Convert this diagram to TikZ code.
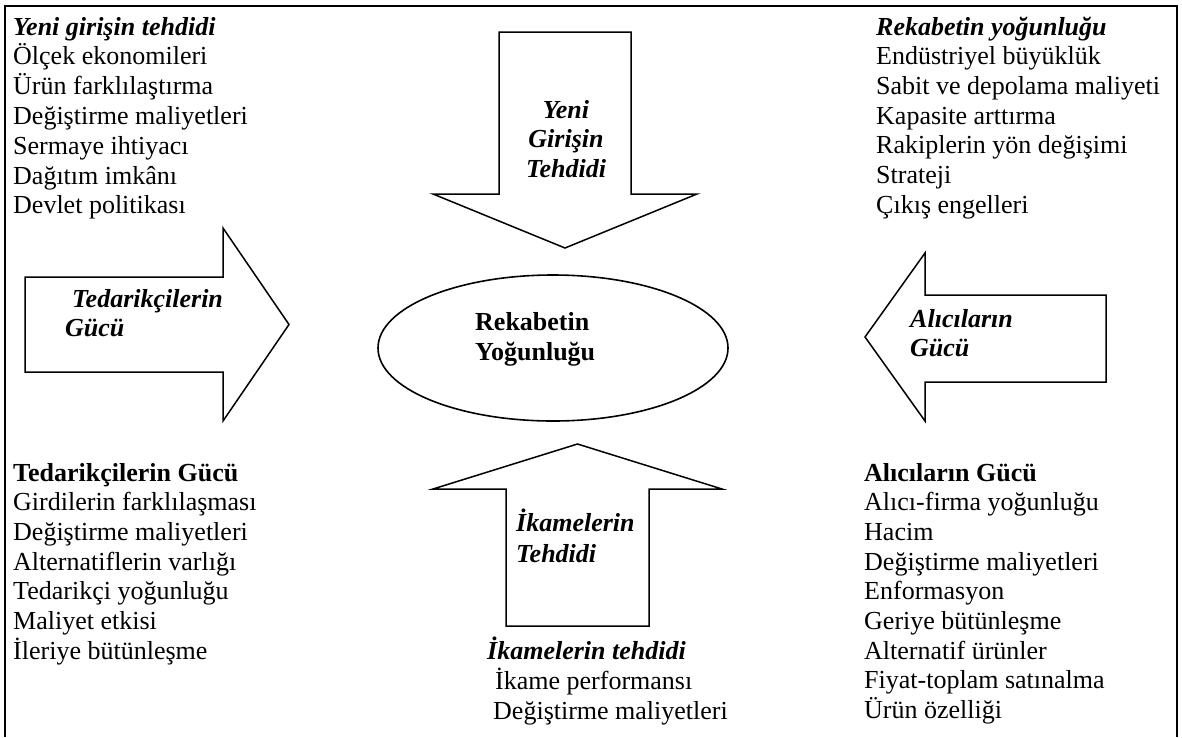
\documentclass[tikz,border=0pt]{standalone}
\usepackage{fontspec}
\setmainfont{Liberation Serif}
\newcommand{\blocktext}[2][l]{\begin{tabular}[t]{@{}#1@{}}#2\end{tabular}}
\begin{document}
\begin{tikzpicture}[x=1pt,y=-1pt,
  txt/.style={inner sep=0pt, anchor=base west, font=\fontsize{26}{29.7}\selectfont},
  lbl/.style={inner sep=0pt, anchor=base west, font=\fontsize{26}{29.5}\selectfont\bfseries\itshape},
  bigarrow/.style={draw, line width=1.5pt, line join=miter, fill=white},
  frameline/.style={line width=2pt}]
\useasboundingbox (0,0) rectangle (1182,737);
% frame (left, top, right)
\draw[frameline] (5,737) -- (5,6) -- (1177,6) -- (1177,737);
% block arrows
\draw[bigarrow] (499,32) -- (631,32) -- (631,194) -- (697,194) -- (565,248) -- (433,194) -- (499,194) -- cycle;
\draw[bigarrow] (506,626) -- (649,626) -- (649,489) -- (722,489) -- (577.5,444) -- (433,489) -- (506,489) -- cycle;
\draw[bigarrow] (25,277) -- (223,277) -- (223,228) -- (289,324.5) -- (223,421) -- (223,372) -- (25,372) -- cycle;
\draw[bigarrow] (1106,295) -- (925,295) -- (925,253) -- (865,337) -- (925,421) -- (925,382) -- (1106,382) -- cycle;
% central ellipse
\draw[line width=1.6pt] (553,348) ellipse [x radius=175, y radius=73];
% ellipse and arrow labels
\node[inner sep=0pt, anchor=base west, font=\fontsize{26}{30}\selectfont\bfseries] (center) at (475,330) {\blocktext{Rekabetin\\Yoğunluğu}};
\node[lbl, anchor=base] (newentry) at (566,118) {\blocktext[c]{Yeni\\Girişin\\Tehdidi}};
\node[lbl, font=\fontsize{26}{31}\selectfont\bfseries\itshape] (substitutes) at (516,531) {\blocktext{İkamelerin\\Tehdidi}};
\node[lbl] (suppliers) at (65,307) {\blocktext{\hspace{7pt}Tedarikçilerin\\Gücü}};
\node[lbl] (buyers) at (910,327) {\blocktext{Alıcıların\\Gücü}};
% text blocks
\node[txt] (tl) at (13,35) {\blocktext{\textbf{\textit{Yeni girişin tehdidi}}\\Ölçek ekonomileri\\Ürün farklılaştırma\\Değiştirme maliyetleri\\Sermaye ihtiyacı\\Dağıtım imkânı\\Devlet politikası}};
\node[txt] (tr) at (876,35) {\blocktext{\textbf{\textit{Rekabetin yoğunluğu}}\\Endüstriyel büyüklük\\Sabit ve depolama maliyeti\\Kapasite arttırma\\Rakiplerin yön değişimi\\Strateji\\Çıkış engelleri}};
\node[txt] (bl) at (13,481) {\blocktext{\textbf{Tedarikçilerin Gücü}\\Girdilerin farklılaşması\\Değiştirme maliyetleri\\Alternatiflerin varlığı\\Tedarikçi yoğunluğu\\Maliyet etkisi\\İleriye bütünleşme}};
\node[txt] (br) at (864,481) {\blocktext{\textbf{Alıcıların Gücü}\\Alıcı-firma yoğunluğu\\Hacim\\Değiştirme maliyetleri\\Enformasyon\\Geriye bütünleşme\\Alternatif ürünler\\Fiyat-toplam satınalma\\Ürün özelliği}};
\node[txt] (bc) at (487,659) {\blocktext{\textbf{\textit{İkamelerin tehdidi}}\\\hspace{8pt}İkame performansı\\\hspace{6pt}Değiştirme maliyetleri}};
\end{tikzpicture}
\end{document}
